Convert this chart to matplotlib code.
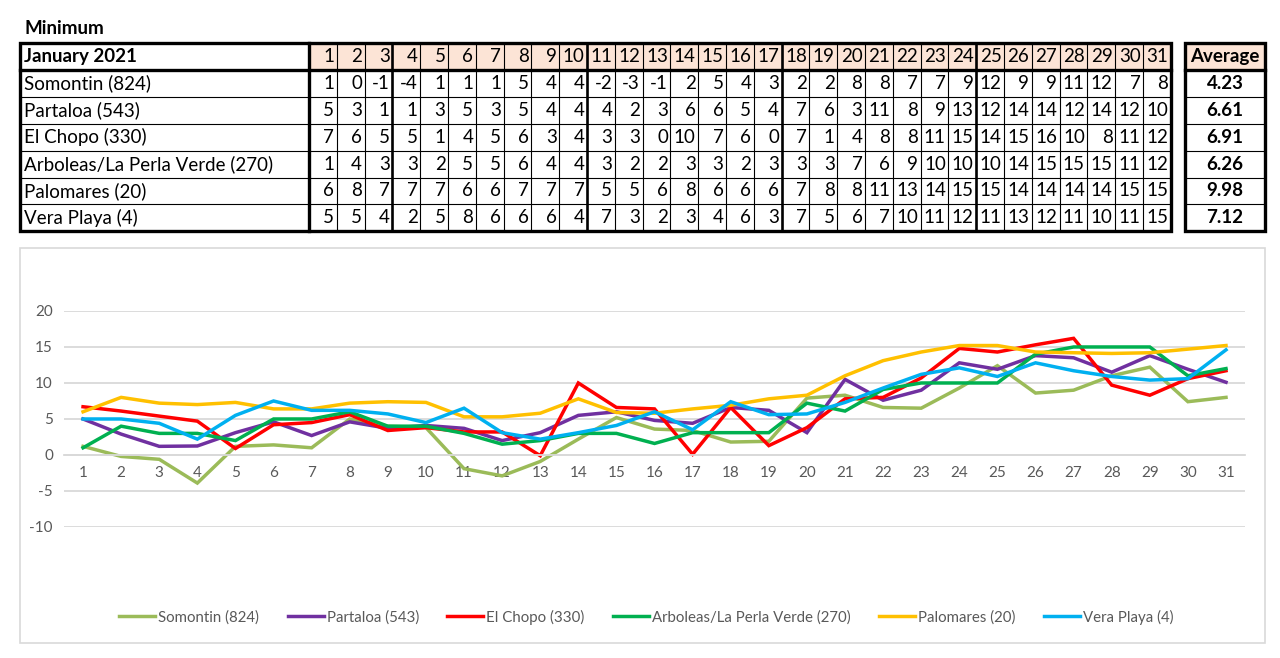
import matplotlib
matplotlib.use("Agg")
import matplotlib.pyplot as plt
from matplotlib.patches import Rectangle

plt.rcParams['font.family'] = ['Lato', 'DejaVu Sans']
plt.rcParams['axes.unicode_minus'] = False

# ---- data ----
days = list(range(1, 32))
stations = ["Somontin (824)", "Partaloa (543)", "El Chopo (330)",
            "Arboleas/La Perla Verde (270)", "Palomares (20)", "Vera Playa (4)"]

# rounded values shown in the table
tbl_somontin = [1, 0, -1, -4, 1, 1, 1, 5, 4, 4, -2, -3, -1, 2, 5, 4, 3, 2, 2, 8, 8, 7, 7, 9, 12, 9, 9, 11, 12, 7, 8]
tbl_partaloa = [5, 3, 1, 1, 3, 5, 3, 5, 4, 4, 4, 2, 3, 6, 6, 5, 4, 7, 6, 3, 11, 8, 9, 13, 12, 14, 14, 12, 14, 12, 10]
tbl_chopo = [7, 6, 5, 5, 1, 4, 5, 6, 3, 4, 3, 3, 0, 10, 7, 6, 0, 7, 1, 4, 8, 8, 11, 15, 14, 15, 16, 10, 8, 11, 12]
tbl_arboleas = [1, 4, 3, 3, 2, 5, 5, 6, 4, 4, 3, 2, 2, 3, 3, 2, 3, 3, 3, 7, 6, 9, 10, 10, 10, 14, 15, 15, 15, 11, 12]
tbl_palomares = [6, 8, 7, 7, 7, 6, 6, 7, 7, 7, 5, 5, 6, 8, 6, 6, 6, 7, 8, 8, 11, 13, 14, 15, 15, 14, 14, 14, 14, 15, 15]
tbl_vera = [5, 5, 4, 2, 5, 8, 6, 6, 6, 4, 7, 3, 2, 3, 4, 6, 3, 7, 5, 6, 7, 10, 11, 12, 11, 13, 12, 11, 10, 11, 15]
averages = ["4.23", "6.61", "6.91", "6.26", "9.98", "7.12"]

# values plotted in the chart
somontin = [1.2, -0.2, -0.6, -3.9, 1.2, 1.4, 1.0, 5.0, 4.0, 3.8, -1.9, -2.9, -0.9, 2.2, 5.2,
            3.6, 3.4, 1.8, 1.9, 7.9, 8.3, 6.6, 6.5, 9.3, 12.4, 8.6, 9.0, 11.0, 12.2, 7.4, 8.0]
partaloa = [5.0, 2.9, 1.2, 1.25, 3.1, 4.6, 2.7, 4.6, 3.7, 4.1, 3.7, 2.0, 3.1, 5.5, 6.0,
            4.8, 4.4, 6.6, 6.2, 3.1, 10.5, 7.6, 9.0, 12.8, 11.9, 13.8, 13.5, 11.5, 13.8, 11.9, 10.1]
chopo = [6.7, 6.1, 5.4, 4.7, 0.9, 4.2, 4.5, 5.6, 3.4, 3.8, 3.2, 3.2, -0.1, 10.0, 6.6,
         6.4, 0.1, 6.6, 1.3, 3.8, 7.8, 8.0, 10.7, 14.8, 14.3, 15.3, 16.2, 9.7, 8.3, 10.6, 11.7]
arboleas = [1.0, 4.0, 3.0, 3.0, 2.0, 5.0, 5.0, 6.0, 4.0, 4.0, 3.0, 1.5, 2.0, 3.0, 3.0,
            1.6, 3.1, 3.1, 3.1, 7.2, 6.1, 9.1, 10.0, 10.0, 10.0, 14.0, 15.0, 15.0, 15.0, 11.0, 12.0]
palomares = [6.0, 8.0, 7.2, 7.0, 7.3, 6.4, 6.4, 7.2, 7.4, 7.3, 5.3, 5.3, 5.8, 7.8, 5.9,
             5.8, 6.4, 6.9, 7.8, 8.3, 11.0, 13.1, 14.3, 15.2, 15.2, 14.3, 14.2, 14.1, 14.2, 14.7, 15.2]
vera = [5.0, 5.0, 4.4, 2.2, 5.5, 7.5, 6.2, 6.2, 5.7, 4.5, 6.5, 3.1, 2.2, 3.1, 4.1,
        6.0, 3.5, 7.4, 5.6, 5.7, 7.3, 9.3, 11.2, 12.1, 10.9, 12.8, 11.7, 10.9, 10.4, 10.6, 14.6]

colors = ["#9BBB59", "#7030A0", "#FF0000", "#00B050", "#FFC000", "#00B0F0"]

table_rows = [tbl_somontin, tbl_partaloa, tbl_chopo, tbl_arboleas, tbl_palomares, tbl_vera]
series = [somontin, partaloa, chopo, arboleas, palomares, vera]

fig = plt.figure(figsize=(12.8, 6.58), dpi=100)

# ---- table, drawn in pixel coordinates ----
ax_t = fig.add_axes([0, 0, 1, 1])
ax_t.set_xlim(0, 1280)
ax_t.set_ylim(658, 0)
ax_t.axis('off')

x0, xl, dw = 20, 309, 27.8
xr = xl + 31 * dw
y0, rh = 43, 26.9
nrows = len(stations) + 1
yb = y0 + nrows * rh
ax0, ax1 = 1185, 1265
thin, thick, mid = 0.8, 2.4, 1.9
peach = "#FCE4D6"

ax_t.text(x0 + 4, 28, "Minimum", fontsize=13.5, fontweight='bold', va='center')

# header fills
ax_t.add_patch(Rectangle((xl, y0), xr - xl, rh, facecolor=peach, edgecolor='none'))
ax_t.add_patch(Rectangle((ax0, y0), ax1 - ax0, rh, facecolor=peach, edgecolor='none'))

# thin grid
for r in range(1, nrows):
    ax_t.plot([x0, xr], [y0 + r * rh] * 2, color='black', lw=thin)
    ax_t.plot([ax0, ax1], [y0 + r * rh] * 2, color='black', lw=thin)
for c in range(1, 31):
    xc = xl + c * dw
    lw = mid if c in (3, 10, 17, 24) else thin
    ax_t.plot([xc, xc], [y0, yb], color='black', lw=lw)

# thick borders
for (a, b) in [(x0, xr), (ax0, ax1)]:
    ax_t.add_patch(Rectangle((a, y0), b - a, yb - y0, fill=False, edgecolor='black', lw=thick))
    ax_t.plot([a, b], [y0 + rh] * 2, color='black', lw=thick)
ax_t.plot([xl, xl], [y0, yb], color='black', lw=thick)

fs = 13.5
ax_t.text(x0 + 4, y0 + rh / 2, "January 2021", fontsize=fs, fontweight='bold', va='center')
ax_t.text((ax0 + ax1) / 2, y0 + rh / 2, "Average", fontsize=fs, fontweight='bold', va='center', ha='center')
for c, d in enumerate(days):
    ax_t.text(xl + (c + 1) * dw - 2.5, y0 + rh / 2, str(d), fontsize=fs, va='center', ha='right')
for r, name in enumerate(stations):
    yc = y0 + (r + 1.5) * rh
    ax_t.text(x0 + 4, yc, name, fontsize=fs, va='center')
    for c, v in enumerate(table_rows[r]):
        ax_t.text(xl + (c + 1) * dw - 2.5, yc, str(v), fontsize=fs, va='center', ha='right')
    ax_t.text((ax0 + ax1) / 2, yc, averages[r], fontsize=fs, fontweight='bold', va='center', ha='center')

# chart frame
ax_t.add_patch(Rectangle((20, 248), 1245, 395, fill=False, edgecolor='#D9D9D9', lw=1.2))

# ---- line chart ----
ax = fig.add_axes([0.05, 0.1991, 0.9227, 0.3283])
ax.patch.set_alpha(0)
for name, vals, col in zip(stations, series, colors):
    ax.plot(days, vals, color=col, lw=2.5, label=name, solid_joinstyle='miter')

ax.set_xlim(0.5, 31.5)
ax.set_ylim(-10, 20)
ax.set_yticks(range(-10, 21, 5))
ax.set_xticks(days)
ax.grid(axis='y', color='#D9D9D9', lw=1.3)
ax.set_axisbelow(True)
for s in ['top', 'right', 'left']:
    ax.spines[s].set_visible(False)
ax.spines['bottom'].set_position(('data', 0))
ax.spines['bottom'].set_color('#D9D9D9')
ax.spines['bottom'].set_linewidth(1.3)
ax.tick_params(axis='both', length=0, labelsize=11, labelcolor='#595959')
ax.tick_params(axis='x', pad=8)
ax.tick_params(axis='y', pad=8)

fig.legend(loc='center', bbox_to_anchor=(0.505, 0.0623), ncol=6, frameon=False,
           fontsize=10.8, handlelength=2.4, handletextpad=0.2, columnspacing=1.9,
           labelcolor='#595959')

fig.savefig("out.png", dpi=100)
